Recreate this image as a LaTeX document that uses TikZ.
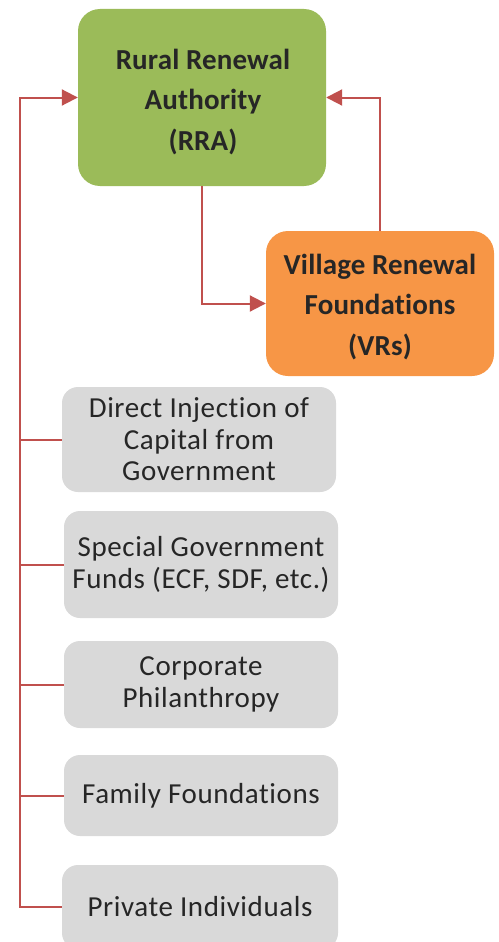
\documentclass[tikz,border=0pt]{standalone}
\usepackage{fontspec}
\setmainfont{Carlito}[Ligatures={NoCommon},RawFeature={-liga;-calt;-dlig}]
\usetikzlibrary{arrows.meta}
\definecolor{rragreen}{HTML}{9BBB59}
\definecolor{vrorange}{HTML}{F79646}
\definecolor{srcgray}{HTML}{D9D9D9}
\definecolor{linkred}{HTML}{C0504D}
\definecolor{txtdark}{HTML}{262626}
\tikzset{
  mainbox/.style={rounded corners=22pt, inner sep=0pt, align=center, text=txtdark,
    font=\fontsize{29}{40.5}\selectfont\bfseries\addfontfeature{LetterSpace=0.5}},
  srcbox/.style={fill=srcgray, rounded corners=16pt, inner sep=0pt, align=center, text=txtdark,
    minimum width=274pt, font=\fontsize{29}{31.5}\selectfont\addfontfeature{LetterSpace=2}},
  link/.style={draw=linkred, line width=2pt},
  linkarrow/.style={link, -{Triangle[length=16pt,width=16pt]}},
}
\begin{document}
\begin{tikzpicture}[x=1pt,y=-1pt]
\useasboundingbox (0,0) rectangle (498,942);
\node[mainbox, fill=rragreen, minimum width=248pt, minimum height=177pt] (rra) at (202,97.5) {};
\node[mainbox] (rratext) at (203,102) {Rural Renewal\\Authority\\(RRA)};
\node[mainbox, fill=vrorange, minimum width=228pt, minimum height=145pt] (vr) at (380,303.5) {};
\node[mainbox] (vrtext) at (380,307) {Village Renewal\\Foundations\\(VRs)};
\node[srcbox, minimum height=105pt] (g1) at (199,439.5) {Direct Injection of\\Capital from\\Government};
\node[srcbox, minimum height=107pt] (g2) at (201,564.5) {Special Government\\Funds (ECF, SDF, etc.)};
\node[srcbox, minimum height=87pt] (g3) at (201,684.5) {Corporate\\Philanthropy};
\node[srcbox, minimum height=81pt] (g4) at (201,795.5) {Family Foundations};
\node[srcbox, minimum width=276pt, minimum height=84pt] (g5) at (200,907) {Private Individuals};
\coordinate (bus) at (19.5,0);
\draw[linkarrow] (g5.west) -- (g5.west -| bus) |- (rra.west);
\foreach \g in {g1,g2,g3,g4} \draw[link] (\g.west) -- (\g.west -| bus);
\draw[linkarrow] (vr.north) |- (rra.east);
\draw[linkarrow] (rra.south) |- (vr.west);
\end{tikzpicture}
\end{document}
